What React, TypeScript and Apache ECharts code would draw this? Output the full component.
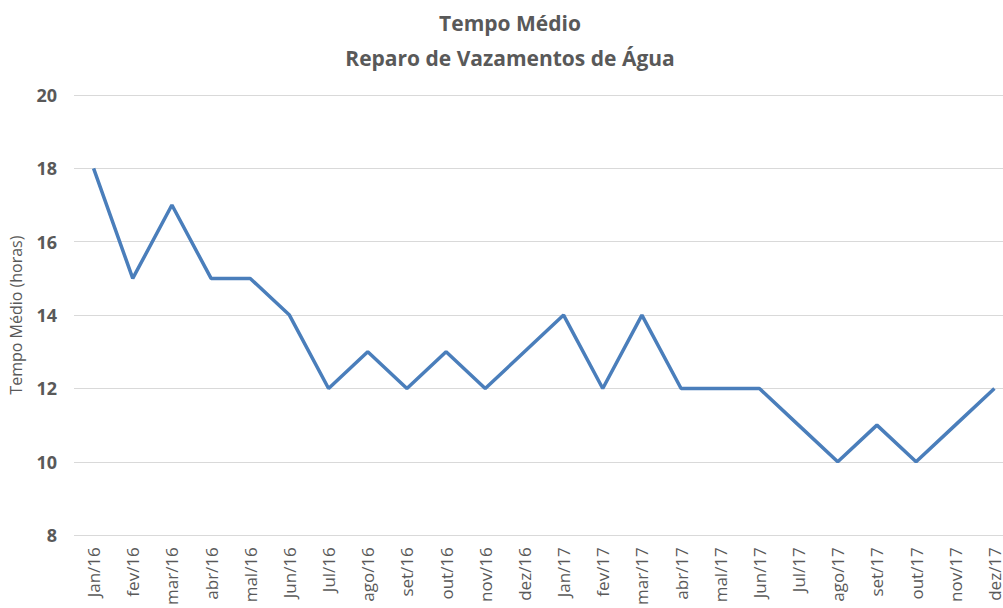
import React, { useEffect, useRef } from "react";
import * as echarts from "echarts";

const categories = [
  "Jan/16", "fev/16", "mar/16", "abr/16", "mal/16", "Jun/16", "Jul/16", "ago/16",
  "set/16", "out/16", "nov/16", "dez/16", "Jan/17", "fev/17", "mar/17", "abr/17",
  "mal/17", "Jun/17", "Jul/17", "ago/17", "set/17", "out/17", "nov/17", "dez/17",
];
const tempoMedio = [18, 15, 17, 15, 15, 14, 12, 13, 12, 13, 12, 13, 14, 12, 14, 12, 12, 12, 11, 10, 11, 10, 11, 12];
const titleLines = ["Tempo Médio", "Reparo de Vazamentos de Água"];
const yAxisName = "Tempo Médio (horas)";

export default function App() {
  const ref = useRef<HTMLDivElement>(null);
  useEffect(() => {
    const chart = echarts.init(ref.current!, null, { renderer: "svg" });
    const font = "'Open Sans', 'Liberation Sans', sans-serif";
    chart.setOption({
      animation: false,
      textStyle: { fontFamily: font },
      title: {
        text: titleLines.join("\n"),
        left: 505,
        textAlign: "center",
        top: 0,
        textStyle: { fontFamily: font, fontSize: 21, fontWeight: "bold", color: "#595959", lineHeight: 35 },
      },
      grid: { left: 74, right: 0, top: 95, bottom: 69, containLabel: false },
      xAxis: {
        type: "category",
        data: categories,
        boundaryGap: true,
        axisLine: { show: false },
        axisTick: { show: false },
        axisLabel: { rotate: 90, margin: 12, fontSize: 17, color: "#595959", fontFamily: font, interval: 0 },
      },
      yAxis: {
        type: "value",
        min: 8,
        max: 20,
        interval: 2,
        name: yAxisName,
        nameLocation: "middle",
        nameGap: 50,
        nameRotate: 90,
        nameTextStyle: { fontSize: 16, color: "#595959", fontFamily: font },
        axisLine: { show: false },
        axisTick: { show: false },
        splitLine: { lineStyle: { color: "#d9d9d9", width: 1 } },
        axisLabel: { fontSize: 18, fontWeight: "bold", color: "#595959", margin: 17, fontFamily: font },
      },
      series: [
        {
          type: "line",
          data: tempoMedio,
          symbol: "none",
          lineStyle: { color: "#4a7ebb", width: 3.5 },
        },
      ],
    });
    return () => chart.dispose();
  }, []);
  return (
    <div style={{ width: 1003, height: 608, position: "absolute", left: 0, top: 0, overflow: "hidden" }}>
      <div ref={ref} style={{ width: 1014, height: 608 }} />
    </div>
  );
}
